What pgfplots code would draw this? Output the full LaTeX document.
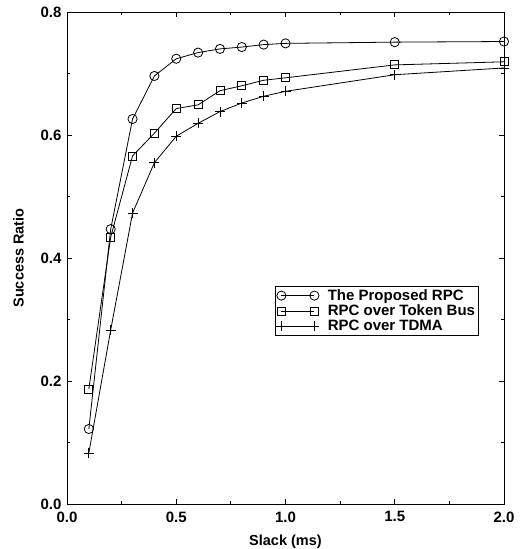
\documentclass[border=0pt]{standalone}
\usepackage{pgfplots}
\pgfplotsset{compat=1.18}
\usepackage{fontspec}
\setmainfont{Liberation Sans}

\pgfplotstableread{
x     prop   token  tdma
0.1   0.122  0.187  0.083
0.2   0.447  0.434  0.283
0.3   0.626  0.566  0.473
0.4   0.696  0.603  0.555
0.5   0.724  0.643  0.598
0.6   0.734  0.649  0.619
0.7   0.740  0.672  0.638
0.8   0.743  0.680  0.652
0.9   0.747  0.689  0.663
1.0   0.749  0.693  0.671
1.5   0.751  0.714  0.698
2.0   0.752  0.719  0.709
}\ratios

\begin{document}
\begin{tikzpicture}
\useasboundingbox (-67pt,-45pt) rectangle (453pt,504pt);
\begin{axis}[
    scale only axis,
    width=437pt, height=492pt,
    xmin=0, xmax=2, ymin=0, ymax=0.8,
    xtick={0,0.5,...,2}, ytick={0,0.2,...,0.8},
    minor x tick num=1, minor y tick num=1,
    major tick length=5pt, minor tick length=3pt,
    tick align=inside,
    /pgf/number format/assume math mode=true,
    tick label style={font=\fontsize{15}{17}\selectfont\bfseries},
    xticklabel style={yshift=-4pt,
        /pgf/number format/.cd,fixed,fixed zerofill,precision=1},
    yticklabel style={xshift=-2pt,
        /pgf/number format/.cd,fixed,fixed zerofill,precision=1},
    label style={font=\fontsize{14.5}{16}\selectfont\bfseries},
    xlabel={Slack (ms)}, ylabel={Success Ratio},
    xlabel style={yshift=-6pt},
    ylabel style={yshift=10pt},
    axis line style={line width=0.9pt},
    every tick/.style={black, line width=0.8pt},
    legend style={at={(rel axis cs:0.476,0.443)}, anchor=north west,
        font=\fontsize{15}{17}\selectfont\bfseries,
        draw=black, line width=0.8pt, inner sep=1pt, row sep=-1pt,
        cells={anchor=west}},
    legend image code/.code={%
        \draw[#1] plot coordinates {(0pt,0pt) (33pt,0pt)};
        \path (44pt,0pt);},
    every axis plot/.append style={black, line width=0.8pt},
]
\addplot[mark=o, mark size=4.6pt] table[x=x,y=prop] {\ratios};
\addlegendentry{The Proposed RPC}
\addplot[mark=square, mark size=4pt] table[x=x,y=token] {\ratios};
\addlegendentry{RPC over Token Bus}
\addplot[mark=+, mark size=5pt] table[x=x,y=tdma] {\ratios};
\addlegendentry{RPC over TDMA}
\end{axis}
\end{tikzpicture}
\end{document}
